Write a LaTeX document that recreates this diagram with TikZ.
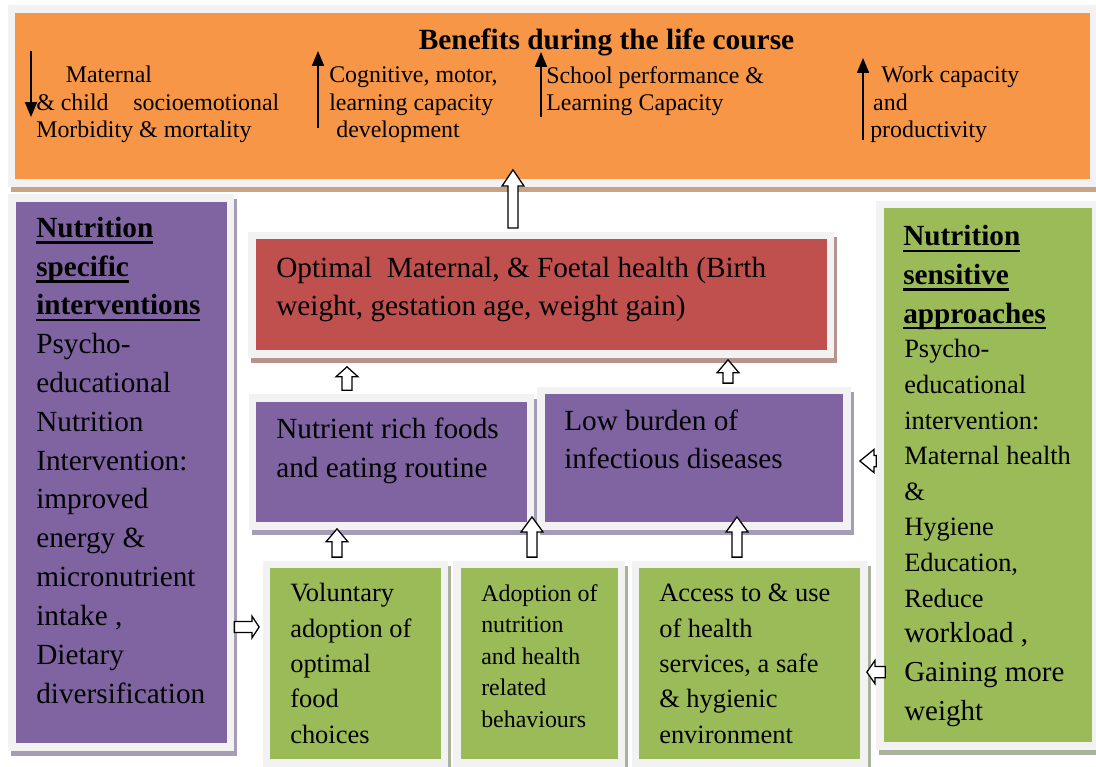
\documentclass[tikz,border=0pt]{standalone}
\usepackage{fontspec}
\setmainfont{Liberation Serif}
\usetikzlibrary{fit,calc,arrows.meta}

\definecolor{framegray}{HTML}{F2F2F2}
\definecolor{lifeorange}{HTML}{F79646}
\definecolor{lifeshade}{HTML}{C9A385}
\definecolor{specpurple}{HTML}{8064A2}
\definecolor{purpleshade}{HTML}{A59CB6}
\definecolor{healthred}{HTML}{C0504D}
\definecolor{redshade}{HTML}{B59490}
\definecolor{senseegreen}{HTML}{9BBB59}
\definecolor{greenshade}{HTML}{A9B29A}

% underline for the headings
\newcommand\headul[1]{\setbox0\hbox{#1}\rlap{\rule[-4.6pt]{\wd0}{1.8pt}}\box0}

\tikzset{
  panel/.style 2 args={draw=framegray, line width=5.5pt, fill=#1, inner sep=0pt,
    preaction={draw=#2, fill=#2, transform canvas={xshift=2.1pt, yshift=-3.6pt}}},
  % multi-line texts are placed at the baseline of their last line
  txt/.style={anchor=base west, align=left, inner sep=0pt},
  txtmain/.style={font=\fontsize{20.8}{27.6}\selectfont},
  txtmid/.style={font=\fontsize{18.8}{25.1}\selectfont},
  txtsmall/.style={font=\fontsize{17}{22.4}\selectfont},
  txtbanner/.style={font=\fontsize{17}{19.6}\selectfont},
  blk/.style={draw=black, fill=white, line width=0.9pt, line join=miter},
  arrup/.style={blk, to path={let \p1=(\tikztostart), \p2=(\tikztotarget) in
    (\x1-3.6pt,\y1) -- (\x1-3.6pt,\y2-#1) -- (\x1-7.8pt,\y2-#1) -- (\x1,\y2)
    -- (\x1+7.8pt,\y2-#1) -- (\x1+3.6pt,\y2-#1) -- (\x1+3.6pt,\y1) -- cycle}},
  arrup/.default=9.5pt,
  arrright/.style={blk, to path={let \p1=(\tikztostart), \p2=(\tikztotarget) in
    (\x1,\y1-3.9pt) -- (\x2-#1,\y1-3.9pt) -- (\x2-#1,\y1-7.6pt) -- (\x2,\y1)
    -- (\x2-#1,\y1+7.6pt) -- (\x2-#1,\y1+3.9pt) -- (\x1,\y1+3.9pt) -- cycle}},
  arrright/.default=5pt,
  arrleft/.style={blk, to path={let \p1=(\tikztostart), \p2=(\tikztotarget) in
    (\x1,\y1-4pt) -- (\x2+#1,\y1-4pt) -- (\x2+#1,\y1-8.2pt) -- (\x2,\y1)
    -- (\x2+#1,\y1+8.2pt) -- (\x2+#1,\y1+4pt) -- (\x1,\y1+4pt) -- cycle}},
  arrleft/.default=6pt,
  trend/.style={line width=1.1pt, -{Triangle[length=10.5pt, width=8.5pt]}}
}

\begin{document}
\begin{tikzpicture}[x=0.025cm, y=-0.025cm]
\useasboundingbox[fill=white] (0,0) rectangle (1096,767);

% boxes
\node[panel={lifeorange}{lifeshade}, fit={(11.5,9) (1094,183)}] (banner) {};
\node[panel={specpurple}{purpleshade}, fit={(12,198) (230.5,747)}] (spec) {};
\node[panel={healthred}{redshade}, fit={(252,235.5) (830.5,354)}] (health) {};
\node[panel={specpurple}{purpleshade}, fit={(252.5,398) (530.5,526)}] (foods) {};
\node[panel={specpurple}{purpleshade}, fit={(541,390.5) (847,526)}] (burden) {};
\node[panel={senseegreen}{greenshade}, fit={(266.5,564.5) (444.5,763)}] (choice) {};
\node[panel={senseegreen}{greenshade}, fit={(457,564.5) (621.5,763)}] (behav) {};
\node[panel={senseegreen}{greenshade}, fit={(635.5,564.5) (864,763)}] (access) {};
\node[panel={senseegreen}{greenshade}, fit={(880,204.5) (1096,746)}] (sense) {};

% banner texts
\node[anchor=base, font=\fontsize{20.9}{25}\selectfont\bfseries] (title) at (606.5,50) {Benefits during the life course};
\node[txt, txtbanner] (morb) at (36,138) {\hspace*{21pt}Maternal\\ \&~child\hspace{17.5pt}socioemotional\\ Morbidity \& mortality};
\node[txt, txtbanner] (cogn) at (329,138) {Cognitive, motor,\\ learning capacity\\ \hspace*{5pt}development};
\node[txt, txtbanner] (school) at (546,111) {School performance \&\\ Learning Capacity};
\node[txt, txtbanner] (work) at (870,138) {\hspace*{7.8pt}Work capacity\\ \hspace*{2.1pt}and\\ productivity};

\coordinate (morb1) at (31,51);
\coordinate (morb2) at (31,117);
\coordinate (cogn1) at (318,128);
\coordinate (cogn2) at (318,51);
\coordinate (school1) at (541,117);
\coordinate (school2) at (541,52);
\coordinate (work1) at (863,140);
\coordinate (work2) at (863,58);
\draw[trend] (morb1) -- (morb2);
\draw[trend] (cogn1) -- (cogn2);
\draw[trend] (school1) -- (school2);
\draw[trend] (work1) -- (work2);

% side panels
\node[txt, txtmain] (spectext) at (36,703) {\headul{\textbf{Nutrition}}\\ \headul{\textbf{specific}}\\ \headul{\textbf{interventions}}\\ Psycho-\\ educational\\ Nutrition\\ Intervention:\\ improved\\ energy \&\\ micronutrient\\ intake ,\\ Dietary\\ diversification};
\node[txt, font=\fontsize{20.8}{27.4}\selectfont] (sensehead) at (903,323) {\headul{\textbf{Nutrition}}\\ \headul{\textbf{sensitive}}\\ \headul{\textbf{approaches}}};
\node[txt, font=\fontsize{18.8}{25.3}\selectfont] (sensetext) at (904,607) {Psycho-\\ educational\\ intervention:\\ Maternal health\\ \&\\ Hygiene\\ Education,\\ Reduce};
\node[txt, font=\fontsize{20.6}{27.4}\selectfont] (sensetail) at (904,720) {workload ,\\ Gaining more\\ weight};

% middle
\node[txt, font=\fontsize{20.8}{27}\selectfont] (healthtext) at (276,315) {Optimal\ \ Maternal, \& Foetal health (Birth\\ weight, gestation age, weight gain)};
\node[txt, txtmain] (foodstext) at (276,477) {Nutrient rich foods\\ and eating routine};
\node[txt, font=\fontsize{20.8}{27}\selectfont] (burdentext) at (564,468) {Low burden of\\ infectious diseases};
\node[txt, txtmid] (choicetext) at (290,743) {Voluntary\\ adoption of\\ optimal\\ food\\ choices};
\node[txt, txtsmall] (behavtext) at (481,727) {Adoption of\\ nutrition\\ and health\\ related\\ behaviours};
\node[txt, txtmid] (accesstext) at (659,743) {Access to \& use\\ of health\\ services, a safe\\ \& hygienic\\ environment};

% block arrows
\draw[arrup=11.5pt] ([xshift=-0.706cm, yshift=2.5pt]health.north) to ([yshift=12.1pt]banner.south);
\draw[arrup=7pt] ([xshift=-1.1125cm, yshift=2.8pt]foods.north) to ([yshift=-6.4pt]health.south);
\draw[arrup=9.2pt] ([xshift=0.85cm, yshift=2.5pt]burden.north) to ([yshift=-1.4pt]health.south);
\draw[arrup=9.2pt] ([xshift=-0.4625cm, yshift=2.5pt]choice.north) to ([yshift=0.7pt]foods.south);
\draw[arrup=10.7pt] ([xshift=-0.181cm, yshift=2.5pt]behav.north) to ([yshift=9.2pt]foods.south);
\draw[arrup=10.7pt] ([xshift=-0.319cm, yshift=2.5pt]access.north) to ([yshift=9.2pt]burden.south);
\draw[arrright] ([yshift=-3.8625cm]spec.east) to ([xshift=-2.5pt]choice.west);
\draw[arrleft=10pt] ([yshift=0.356cm]sense.west) to ([xshift=6.4pt]burden.east);
\draw[arrleft=5.7pt] ([xshift=6.4pt, yshift=-4.92cm]sense.west) to ([xshift=-0.7pt]access.east);
\end{tikzpicture}
\end{document}
